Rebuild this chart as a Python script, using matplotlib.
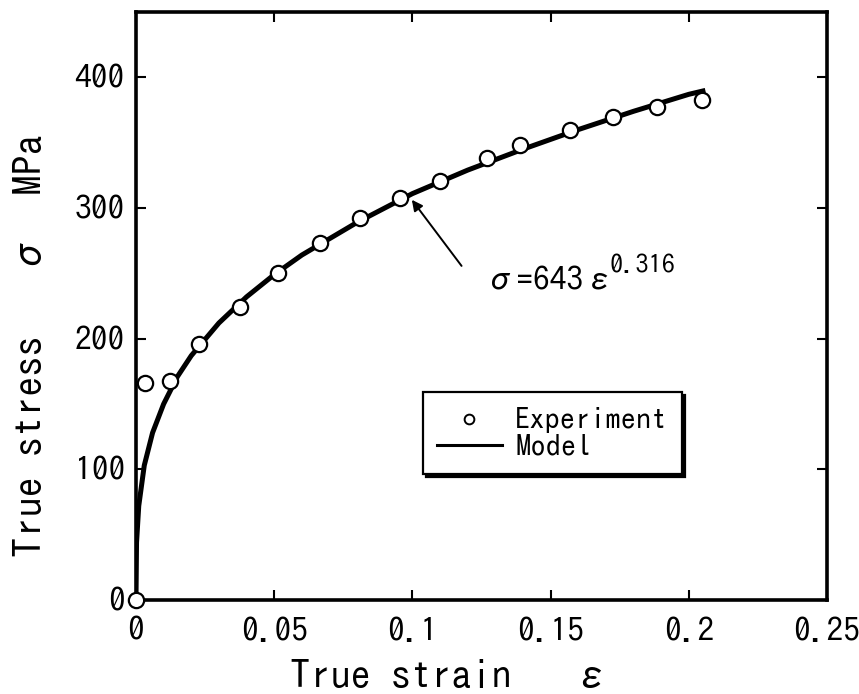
import matplotlib
matplotlib.use("Agg")
import matplotlib.pyplot as plt
from matplotlib.lines import Line2D

# experiment points (true strain, true stress in MPa)
exp_strain = [0.0, 0.0033, 0.0123, 0.0229, 0.0376, 0.0514, 0.0666, 0.081,
              0.0955, 0.110, 0.127, 0.139, 0.157, 0.1726, 0.1885, 0.2048]
exp_stress = [0, 166, 168, 196, 224, 250, 273, 292,
              308, 321, 338, 348, 360, 370, 377, 383]

# model curve
model_strain = [0.0, 0.0002, 0.001, 0.003, 0.006, 0.01, 0.015, 0.02, 0.03, 0.04,
                0.05, 0.06, 0.08, 0.1, 0.12, 0.14, 0.16, 0.18, 0.2, 0.206]
model_stress = [0, 44, 72, 103, 128, 150, 171, 187, 212, 232,
                249, 264, 289, 311, 329, 345, 360, 374, 387, 390]

x_ticks = [0, 0.05, 0.1, 0.15, 0.2, 0.25]
x_labels = ["0", "0.05", "0.1", "0.15", "0.2", "0.25"]
y_ticks = [0, 100, 200, 300, 400]
y_labels = ["0", "100", "200", "300", "400"]

FONT = ["IPAGothic", "DejaVu Sans"]
plt.rcParams["font.family"] = FONT

fig = plt.figure(figsize=(8.59, 6.94), dpi=100)
ax = fig.add_axes([0.1583, 0.1354, 0.9627 - 0.1583, 0.9827 - 0.1354])

ax.plot(model_strain, model_stress, color="black", lw=3.6, solid_capstyle="butt", zorder=2)
ax.plot(exp_strain, exp_stress, ls="none", marker="o", ms=11, mfc="white",
        mec="black", mew=1.6, zorder=3, clip_on=False)

ax.set_xlim(0, 0.25)
ax.set_ylim(0, 450)
ax.set_xticks(x_ticks)
ax.set_xticklabels(x_labels)
ax.set_yticks(y_ticks)
ax.set_yticklabels(y_labels)
ax.tick_params(axis="both", direction="in", length=7, width=1.5, labelsize=24,
               top=True, right=True)
ax.tick_params(axis="x", pad=12)
ax.tick_params(axis="y", pad=8)
for s in ax.spines.values():
    s.set_linewidth(2.6)

ax.set_xlabel("True strain   ε", fontsize=29, ha="left", va="baseline")
ax.xaxis.set_label_coords(0.223, -0.151)
ax.set_ylabel("True stress   σ  MPa", fontsize=29, ha="left", va="center")
ax.yaxis.set_label_coords(-0.153, 0.073)

# equation with arrow to the curve
ax.annotate("", xy=(0.0992, 308), xytext=(0.1184, 254),
            arrowprops=dict(arrowstyle="-|>", color="black", lw=1.4, mutation_scale=16))
ax.text(0.1256, 236, "σ=643ε", fontsize=24, ha="left", va="baseline")
ax.text(0.1712, 250, "0.316", fontsize=19, ha="left", va="baseline")

handles = [Line2D([], [], ls="none", marker="o", ms=7, mfc="white", mec="black", mew=1.4),
           Line2D([], [], color="black", lw=2.2)]
leg = ax.legend(handles, ["Experiment", "Model"], loc="upper left",
                bbox_to_anchor=(0.415, 0.354), fontsize=22, frameon=True,
                fancybox=False, edgecolor="black", shadow={"color": "black", "alpha": 1},
                handlelength=2.1, handletextpad=0.45, labelspacing=0.02,
                borderpad=0.48, borderaxespad=0)
leg.get_frame().set_linewidth(1.6)

fig.savefig("out.png", dpi=100)
